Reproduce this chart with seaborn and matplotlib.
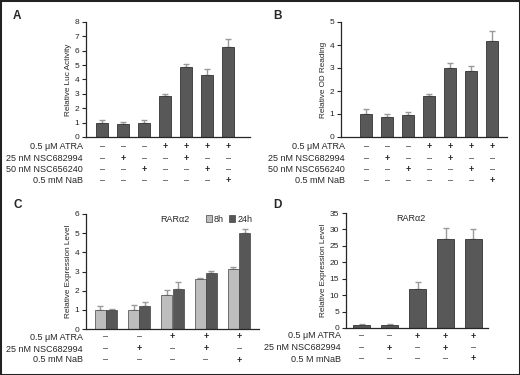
import numpy as np
import pandas as pd
import seaborn as sns
import matplotlib.pyplot as plt
from matplotlib.patches import Rectangle

# ---- data ----
a_vals = [1.0, 0.9, 0.98, 2.82, 4.84, 4.33, 6.23]
a_errs = [0.15, 0.12, 0.18, 0.16, 0.24, 0.41, 0.6]
b_vals = [1.0, 0.89, 0.97, 1.78, 2.98, 2.87, 4.18]
b_errs = [0.21, 0.11, 0.13, 0.1, 0.22, 0.2, 0.44]
c_groups = ['g1', 'g2', 'g3', 'g4', 'g5']
c_8h = [1.0, 1.0, 1.8, 2.63, 3.12]
c_8h_err = [0.2, 0.24, 0.22, 0.03, 0.11]
c_24h = [1.0, 1.2, 2.07, 2.93, 5.03]
c_24h_err = [0.05, 0.19, 0.37, 0.08, 0.2]
d_vals = [0.9, 0.9, 11.9, 27.2, 27.0]
d_errs = [0.3, 0.2, 2.0, 3.3, 3.1]

ab_rows = ['0.5 \u03bcM ATRA', '25 nM NSC682994', '50 nM NSC656240', '0.5 mM NaB']
ab_signs = ['---++++', '-+--+--', '--+--+-', '------+']
c_rows = ['0.5 \u03bcM ATRA', '25 nM NSC682994', '0.5 mM NaB']
c_signs = ['--+++', '-+-+-', '----+']
d_rows = ['0.5 \u03bcM ATRA', '25 nM NSC682994', '0.5 M mNaB']
d_signs = ['--+++', '-+-+-', '----+']

sns.set_style('ticks')
plt.rcParams['font.family'] = ['Liberation Sans', 'DejaVu Sans']
plt.rcParams['axes.linewidth'] = 0.9

W, H = 520, 375
fig = plt.figure(figsize=(W / 100, H / 100), dpi=100)
fig.patches.append(Rectangle((0, 0), 1, 1, transform=fig.transFigure, fill=False,
                             lw=2.2, edgecolor='#222222', zorder=10))

BAR = '#585858'
ERR = '#9a9a9a'


def make_ax(l, r, t, b):
    return fig.add_axes([l / W, 1 - b / H, (r - l) / W, (b - t) / H])


def style(ax, ylim, step, ylabel):
    ax.set_ylim(*ylim)
    ax.set_yticks(np.arange(ylim[0], ylim[1] + 0.01, step))
    ax.set_xticks([])
    ax.set_xlabel('')
    ax.set_ylabel(ylabel, fontsize=5.9, labelpad=2)
    ax.tick_params(axis='y', labelsize=6.0, length=3, width=0.8, pad=2)
    sns.despine(ax=ax)


def err_up(ax, cont, errs):
    xs = [p.get_x() + p.get_width() / 2 for p in cont.patches]
    hs = [p.get_height() for p in cont.patches]
    ax.errorbar(xs, hs, yerr=[np.zeros(len(errs)), errs], fmt='none',
                ecolor=ERR, elinewidth=1.0, capsize=2.2, capthick=1.0, zorder=1)


def conditions(ax, names, signs, offsets, label_px, l, r):
    axh = ax.get_position().height * H
    for name, s, off in zip(names, signs, offsets):
        y = -off / axh
        ax.text((label_px - l) / (r - l), y, name, transform=ax.transAxes,
                ha='right', va='center', fontsize=6.5)
        for i, c in enumerate(s):
            ax.text(i, y, '+' if c == '+' else '\u2013',
                    transform=ax.get_xaxis_transform(), ha='center', va='center',
                    fontsize=6.5, fontweight='bold' if c == '+' else 'normal')


# ---- A ----
axA = make_ax(86, 250, 22, 137)
dfA = pd.DataFrame({'cond': [str(i) for i in range(7)], 'val': a_vals})
sns.barplot(data=dfA, x='cond', y='val', color=BAR, edgecolor='#333333', linewidth=0.6,
            width=0.57, errorbar=None, ax=axA, zorder=2)
err_up(axA, axA.containers[0], a_errs)
axA.set_xlim(-0.76, 7.03)
style(axA, (0, 8), 1, 'Relative Luc Activity')
conditions(axA, ab_rows, ab_signs, [10, 22, 33, 44], 83, 86, 250)
fig.text(13 / W, 1 - 16 / H, 'A', fontsize=8.5, fontweight='bold', va='center')

# ---- B ----
axB = make_ax(341, 507, 22, 137)
dfB = pd.DataFrame({'cond': [str(i) for i in range(7)], 'val': b_vals})
sns.barplot(data=dfB, x='cond', y='val', color=BAR, edgecolor='#333333', linewidth=0.6,
            width=0.57, errorbar=None, ax=axB, zorder=2)
err_up(axB, axB.containers[0], b_errs)
axB.set_xlim(-1.19, 6.71)
style(axB, (0, 5), 1, 'Relative OD Reading')
conditions(axB, ab_rows, ab_signs, [10, 22, 33, 44], 345, 341, 507)
fig.text(273 / W, 1 - 16 / H, 'B', fontsize=8.5, fontweight='bold', va='center')

# ---- C ----
axC = make_ax(86, 259, 214, 329)
dfC = pd.DataFrame({'cond': c_groups * 2, 'val': c_8h + c_24h,
                    'time': ['8h'] * 5 + ['24h'] * 5})
sns.barplot(data=dfC, x='cond', y='val', hue='time', hue_order=['8h', '24h'],
            palette={'8h': '#bdbdbd', '24h': '#575757'}, edgecolor='#444444',
            linewidth=0.5, width=0.68, gap=0.04, errorbar=None, ax=axC, zorder=2)
err_up(axC, axC.containers[0], c_8h_err)
err_up(axC, axC.containers[1], c_24h_err)
axC.set_xlim(-0.6, 4.6)
style(axC, (0, 6), 1, 'Relative Expression Level')
axC.legend(loc='upper left', bbox_to_anchor=(0.66, 1.04), ncol=2, frameon=False,
           fontsize=6.5, handlelength=0.7, handleheight=0.9, handletextpad=0.2,
           columnspacing=0.6, borderpad=0.1)
axC.text(0.43, 0.955, 'RAR\u03b12', transform=axC.transAxes, fontsize=6.5, va='center')
conditions(axC, c_rows, c_signs, [8, 20, 31], 83, 86, 259)
fig.text(13 / W, 1 - 205 / H, 'C', fontsize=8.5, fontweight='bold', va='center')

# ---- D ----
axD = make_ax(346, 488, 213, 328)
dfD = pd.DataFrame({'cond': [str(i) for i in range(5)], 'val': d_vals})
sns.barplot(data=dfD, x='cond', y='val', color=BAR, edgecolor='#333333', linewidth=0.6,
            width=0.6, errorbar=None, ax=axD, zorder=2)
err_up(axD, axD.containers[0], d_errs)
axD.set_xlim(-0.56, 4.52)
style(axD, (0, 35), 5, 'Relative Expression Level')
axD.text(0.46, 0.95, 'RAR\u03b12', transform=axD.transAxes, fontsize=6.5,
         va='center', ha='center')
conditions(axD, d_rows, d_signs, [8, 20, 31], 341, 346, 488)
fig.text(273 / W, 1 - 205 / H, 'D', fontsize=8.5, fontweight='bold', va='center')

fig.savefig('out.png', dpi=100)
plt.close()
